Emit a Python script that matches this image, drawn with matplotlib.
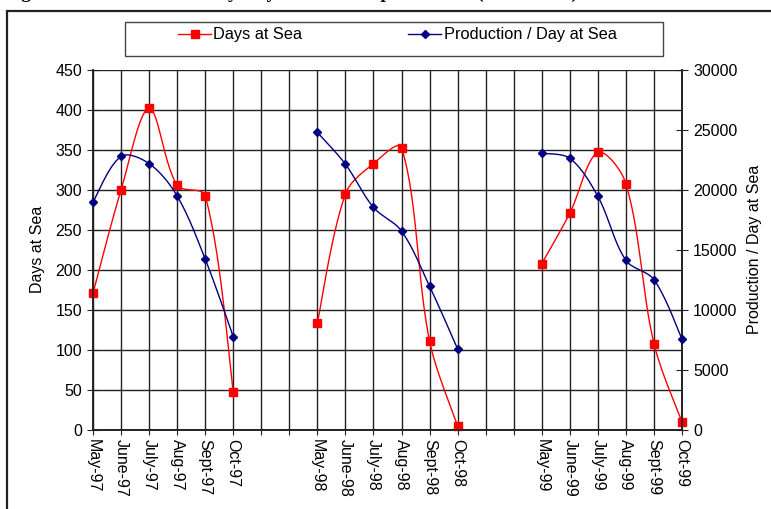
import numpy as np
import matplotlib
matplotlib.use("Agg")
import matplotlib.pyplot as plt
from matplotlib.lines import Line2D
from matplotlib.patches import Rectangle

plt.rcParams['font.family'] = ['Liberation Sans', 'DejaVu Sans']

categories = ["May-97", "June-97", "July-97", "Aug-97", "Sept-97", "Oct-97", "", "",
              "May-98", "June-98", "July-98", "Aug-98", "Sept-98", "Oct-98", "", "",
              "May-99", "June-99", "July-99", "Aug-99", "Sept-99", "Oct-99"]
days_at_sea = [171, 300, 402, 306, 293, 48, None, None,
               134, 295, 333, 353, 111, 5, None, None,
               208, 271, 347, 308, 108, 10]
prod_per_day = [19000, 22800, 22200, 19500, 14250, 7780, None, None,
                24800, 22150, 18550, 16580, 11980, 6750, None, None,
                23060, 22640, 19470, 14140, 12530, 7580]

W, H = 771, 509
fig = plt.figure(figsize=(W / 100, H / 100), dpi=100)

def fx(px):
    return px / W

def fy(py):
    return 1 - py / H

FS = 11.5

# caption (cut off at the top, as in the source)
fig.text(fx(4), fy(-2), "Figure 4: Trends in monthly Days at Sea and production (1997–1999)",
         family='Liberation Serif', weight='bold', fontsize=14, va='baseline', ha='left')

# outer chart frame
fig.patches.append(Rectangle((fx(7), -0.1), 1.2, fy(11) + 0.1, transform=fig.transFigure,
                             fill=False, edgecolor='#222222', lw=1.6))

AX_L, AX_R, AX_T, AX_B = 93, 682, 70, 430
ax = fig.add_axes([fx(AX_L), fy(AX_B), fx(AX_R) - fx(AX_L), fy(AX_T) - fy(AX_B)])
ax2 = ax.twinx()

n_cat = len(categories)
px_per_x = (AX_R - AX_L) / (n_cat - 1)

def smooth_segments(vals, ymax):
    px_per_y = (AX_B - AX_T) / ymax
    segs, cur = [], []
    for i, v in enumerate(vals):
        if v is None:
            if cur:
                segs.append(cur)
            cur = []
        else:
            cur.append((i, v))
    if cur:
        segs.append(cur)
    out = []
    scale = np.array([px_per_x, px_per_y])
    for seg in segs:
        p = np.array(seg, dtype=float) * scale  # pixel space
        n = len(p)
        xs, ys = [], []
        for k in range(n - 1):
            p0 = p[k - 1] if k > 0 else p[k]
            p1 = p[k]
            p2 = p[k + 1]
            p3 = p[k + 2] if k + 2 < n else p[k + 1]
            d01 = np.hypot(*(p1 - p0))
            d12 = np.hypot(*(p2 - p1))
            d23 = np.hypot(*(p3 - p2))
            f1 = d12 / (d01 + d12) if d01 > 0 else 0.5
            f2 = d12 / (d12 + d23) if d23 > 0 else 0.5
            c1 = p1 + (p2 - p0) * f1 / 3
            c2 = p2 - (p3 - p1) * f2 / 3
            t = np.linspace(0, 1, 30)[:, None]
            b = ((1 - t) ** 3) * p1 + 3 * ((1 - t) ** 2) * t * c1 + 3 * (1 - t) * t ** 2 * c2 + t ** 3 * p2
            xs.extend(b[:, 0] / px_per_x)
            ys.extend(b[:, 1] / px_per_y)
        out.append((np.array(seg, dtype=float), np.array(xs), np.array(ys)))
    return out

red = '#FF0000'
navy = '#000080'

for seg, xs, ys in smooth_segments(days_at_sea, 450):
    ax.plot(xs, ys, color=red, lw=1.0, zorder=3)
    ax.plot(seg[:, 0], seg[:, 1], ls='none', marker='s', ms=6, color=red, zorder=4, clip_on=False)

for seg, xs, ys in smooth_segments(prod_per_day, 30000):
    ax2.plot(xs, ys, color=navy, lw=1.0, zorder=3)
    ax2.plot(seg[:, 0], seg[:, 1], ls='none', marker='D', ms=4.5, color=navy, zorder=4, clip_on=False)

ax.set_xlim(0, n_cat - 1)
ax.set_ylim(0, 450)
ax2.set_ylim(0, 30000)
ax.set_yticks(np.arange(0, 451, 50))
ax2.set_yticks(np.arange(0, 30001, 5000))
ax.set_xticks(range(n_cat))
ax.set_xticklabels(categories, rotation=270, fontsize=FS)
ax.tick_params(axis='x', direction='inout', length=7, pad=3, color='#222222')
ax.tick_params(axis='y', direction='inout', length=8, pad=4, labelsize=FS, color='#222222')
ax2.tick_params(axis='y', direction='inout', length=8, pad=4, labelsize=FS, color='#222222')

ax.grid(True, color='#222222', lw=1.0)
ax.set_axisbelow(True)
for a in (ax, ax2):
    a.spines['top'].set_visible(False)
    for s in ('left', 'right', 'bottom'):
        a.spines[s].set_color('#222222')
        a.spines[s].set_linewidth(1.2)

ax.set_ylabel("Days at Sea", fontsize=FS)
ax2.set_ylabel("Production / Day at Sea", fontsize=FS)
ax.yaxis.set_label_coords((38 - AX_L) / (AX_R - AX_L), (AX_B - 249) / (AX_B - AX_T))
ax2.yaxis.set_label_coords((755 - AX_L) / (AX_R - AX_L), (AX_B - 249) / (AX_B - AX_T))
ax.yaxis.label.set_va('center')
ax2.yaxis.label.set_va('center')

# legend box
fig.patches.append(Rectangle((fx(125), fy(56)), fx(663) - fx(125), fy(22) - fy(56),
                             transform=fig.transFigure, fill=False, edgecolor='#444444', lw=1.0))
fig.lines.append(Line2D([fx(178), fx(211)], [fy(34), fy(34)], transform=fig.transFigure,
                        color=red, lw=1.0))
fig.lines.append(Line2D([fx(195)], [fy(34)], transform=fig.transFigure,
                        color=red, ls='none', marker='s', ms=6))
fig.text(fx(213), fy(34), "Days at Sea", fontsize=FS + 0.3, va='center', ha='left')
fig.lines.append(Line2D([fx(408), fx(441)], [fy(34), fy(34)], transform=fig.transFigure,
                        color=navy, lw=1.0))
fig.lines.append(Line2D([fx(425)], [fy(34)], transform=fig.transFigure,
                        color=navy, ls='none', marker='D', ms=4.5))
fig.text(fx(444), fy(34), "Production / Day at Sea", fontsize=FS + 0.3, va='center', ha='left')

fig.savefig("out.png", dpi=100)
